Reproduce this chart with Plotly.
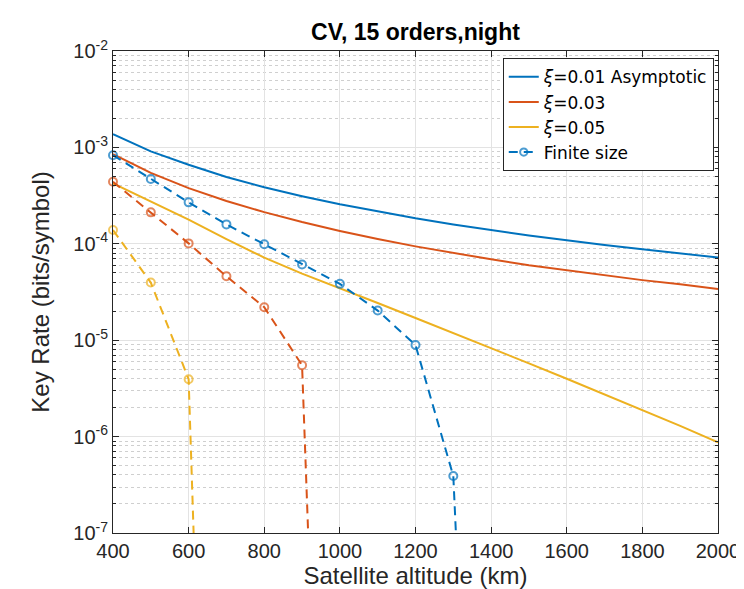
import plotly.graph_objects as go

# ---------------- data ----------------
alt_asym = [400, 500, 600, 700, 800, 900, 1000, 1100, 1200, 1300, 1400,
            1500, 1600, 1700, 1800, 1900, 2000]
asym_xi001 = [1.37e-3, 9.1e-4, 6.6e-4, 4.93e-4, 3.86e-4, 3.12e-4, 2.57e-4, 2.16e-4,
              1.84e-4, 1.59e-4, 1.39e-4, 1.22e-4, 1.09e-4, 9.7e-5, 8.8e-5, 7.9e-5, 7.2e-5]
asym_xi003 = [8.5e-4, 5.44e-4, 3.78e-4, 2.78e-4, 2.13e-4, 1.68e-4, 1.36e-4, 1.12e-4,
              9.4e-5, 8.0e-5, 6.9e-5, 6.0e-5, 5.3e-5, 4.7e-5, 4.2e-5, 3.8e-5, 3.4e-5]
asym_xi005 = [4.24e-4, 2.75e-4, 1.78e-4, 1.12e-4, 7.2e-5, 4.9e-5, 3.47e-5, 2.43e-5,
              1.70e-5, 1.19e-5, 8.3e-6, 5.75e-6, 3.98e-6, 2.75e-6, 1.9e-6, 1.29e-6, 8.7e-7]

# finite size (last point = where the dashed curve leaves the axes)
fs_alt_xi001 = [400, 500, 600, 700, 800, 900, 1000, 1100, 1200, 1300, 1308]
fs_xi001 = [8.3e-4, 4.7e-4, 2.69e-4, 1.59e-4, 9.9e-5, 6.1e-5, 3.84e-5, 2.03e-5,
            8.9e-6, 3.9e-7, 8e-8]
fs_alt_xi003 = [400, 500, 600, 700, 800, 900, 917]
fs_xi003 = [4.4e-4, 2.12e-4, 1.01e-4, 4.6e-5, 2.2e-5, 5.5e-6, 8e-8]
fs_alt_xi005 = [400, 500, 600, 614]
fs_xi005 = [1.39e-4, 3.96e-5, 3.94e-6, 8e-8]

x_ticks = [400, 600, 800, 1000, 1200, 1400, 1600, 1800, 2000]
y_ticks = [1e-7, 1e-6, 1e-5, 1e-4, 1e-3, 1e-2]
y_ticktext = ["10<sup>-7</sup>", "10<sup>-6</sup>", "10<sup>-5</sup>",
              "10<sup>-4</sup>", "10<sup>-3</sup>", "10<sup>-2</sup>"]
y_minor = [k * 10.0 ** e for e in range(-7, -2) for k in range(2, 10)]

BLUE = "#0072BD"
RED = "#D95319"
YEL = "#EDB120"
FONT = "Liberation Sans, Arial, Helvetica, sans-serif"

fig = go.Figure()

fig.add_trace(go.Scatter(x=alt_asym, y=asym_xi001, mode="lines",
                         line=dict(color=BLUE, width=2),
                         name="<i>ξ</i>=0.01 Asymptotic"))
fig.add_trace(go.Scatter(x=alt_asym, y=asym_xi003, mode="lines",
                         line=dict(color=RED, width=2),
                         name="<i>ξ</i>=0.03"))
fig.add_trace(go.Scatter(x=alt_asym, y=asym_xi005, mode="lines",
                         line=dict(color=YEL, width=2),
                         name="<i>ξ</i>=0.05"))


def fs_trace(xs, ys, color, show, name):
    sizes = [8] * (len(xs) - 1) + [0]
    return go.Scatter(x=xs, y=ys, mode="lines+markers", name=name, showlegend=show,
                      cliponaxis=False,
                      line=dict(color=color, width=2, dash="9px,6px"),
                      marker=dict(symbol="circle-open", size=sizes, color=color,
                                  line=dict(color=color, width=2)))


fig.add_trace(fs_trace(fs_alt_xi001, fs_xi001, BLUE, True, "Finite size"))
fig.add_trace(fs_trace(fs_alt_xi003, fs_xi003, RED, False, "fs 0.03"))
fig.add_trace(fs_trace(fs_alt_xi005, fs_xi005, YEL, False, "fs 0.05"))

fig.update_layout(
    width=744, height=589,
    margin=dict(l=105, r=26, t=43, b=64),
    paper_bgcolor="white", plot_bgcolor="white",
    font=dict(family=FONT, color="#262626", size=20),
    title=dict(text="<b>CV, 15 orders,night</b>", x=0.5, xref="paper",
               y=1 - 24 / 589, yanchor="middle",
               font=dict(size=23, color="#000000", family=FONT)),
    legend=dict(x=0.993, y=0.985, xanchor="right", yanchor="top",
                bgcolor="white", bordercolor="#262626", borderwidth=1,
                font=dict(size=17, color="#000000",
                          family="DejaVu Sans, Liberation Sans, sans-serif"),
                tracegroupgap=0, itemwidth=30),
    showlegend=True,
)

fig.update_xaxes(
    range=[400, 2000], tickvals=x_ticks, ticks="inside", ticklen=6,
    tickcolor="#262626", showline=True, linecolor="#262626", linewidth=1,
    mirror="ticks", showgrid=True, gridcolor="#e3e3e3", gridwidth=1,
    zeroline=False, tickfont=dict(size=20, color="#262626"),
    title=dict(text="Satellite altitude (km)", font=dict(size=24, color="#262626"),
               standoff=4),
)
fig.update_yaxes(
    type="log", range=[-7, -2], tickmode="array", tickvals=y_ticks,
    ticktext=y_ticktext, ticks="inside", ticklen=6, tickcolor="#262626",
    showline=True, linecolor="#262626", linewidth=1, mirror="ticks",
    showgrid=True, gridcolor="#e3e3e3", gridwidth=1, zeroline=False,
    tickfont=dict(size=20, color="#262626"),
    minor=dict(tickmode="array", tickvals=y_minor, showgrid=True,
               gridcolor="#cfcfcf", griddash="dot", ticks="inside", ticklen=3,
               tickcolor="#262626"),
    title=dict(text="Key Rate (bits/symbol)", font=dict(size=24, color="#262626"),
               standoff=16),
)

fig.write_html("out.html")
